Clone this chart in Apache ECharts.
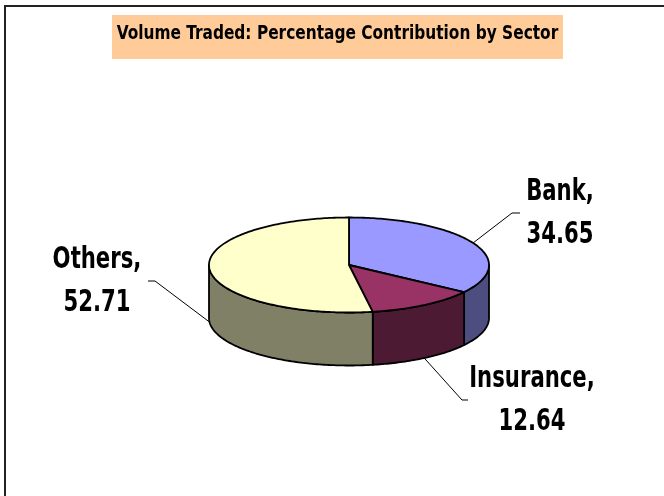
<!DOCTYPE html>
<html>
<head>
<meta charset="utf-8">
<script src="https://cdn.jsdelivr.net/npm/echarts@6/dist/echarts.min.js"></script>
<style>
  html, body { margin: 0; padding: 0; background: #fff; }
  #chart { width: 664px; height: 496px; }
</style>
</head>
<body>
<div id="chart"></div>
<script>
// sector data
const sectors = ['Bank', 'Insurance', 'Others']
const shares = [34.65, 12.64, 52.71]

const topColors = ['#9999FF', '#993366', '#FFFFCC']
const sideColors = ['#4D4D80', '#4D1A33', '#808066']

// 3d pie geometry (ellipse + wall depth)
const cx = 349
const cy = 265
const rx = 140
const ry = 47.5
const depth = 53

// label layout: leader elbow / text centre
const labelLayout = [
  { elbow: [512, 213], end: [520, 213], tx: 560 },
  { elbow: [462, 400], end: [468, 400], tx: 532 },
  { elbow: [155, 281], end: [148, 281], tx: 97 }
]

// no Arial Narrow here, so squeeze the condensed font a bit
const FONT = "'Liberation Sans Narrow', 'Arial Narrow', 'DejaVu Sans Condensed', sans-serif"

const total = shares.reduce((s, v) => s + v, 0)

function pt(t, dy) {
  return [cx + rx * Math.sin(t), cy - ry * Math.cos(t) + (dy || 0)]
}

function arc(a, b, dy) {
  const pts = []
  const n = Math.max(2, Math.ceil(Math.abs(b - a) / (Math.PI / 180)))
  for (let i = 0; i <= n; i++) {
    pts.push(pt(a + (b - a) * i / n, dy))
  }
  return pts
}

function renderItem(params, api) {
  const i = params.dataIndex
  let start = 0
  for (let k = 0; k < i; k++) start += shares[k]
  const a = start / total * Math.PI * 2
  const b = (start + shares[i]) / total * Math.PI * 2
  const children = []

  // side wall, only the front half is seen
  const lo = Math.max(a, Math.PI / 2)
  const hi = Math.min(b, Math.PI * 1.5)
  if (lo < hi) {
    const wall = arc(lo, hi, 0).concat(arc(hi, lo, depth))
    children.push({
      type: 'polygon',
      shape: { points: wall },
      style: { fill: sideColors[i], stroke: '#000', lineWidth: 1.8, lineJoin: 'round' }
    })
  }

  // top face
  children.push({
    type: 'polygon',
    shape: { points: [[cx, cy]].concat(arc(a, b, 0)) },
    style: { fill: topColors[i], stroke: '#000', lineWidth: 1.8, lineJoin: 'round' }
  })

  // leader line + label
  const mid = (a + b) / 2
  const anchor = pt(mid, Math.cos(mid) < 0 ? depth : 0)
  const lay = labelLayout[i]
  children.push({
    type: 'polyline',
    shape: { points: [anchor, lay.elbow, lay.end] },
    style: { fill: null, stroke: '#000', lineWidth: 1 }
  })
  children.push({
    type: 'text',
    x: lay.tx,
    y: lay.end[1],
    scaleX: 0.76,
    style: {
      text: sectors[i] + ',\n' + api.value(0).toFixed(2),
      font: 'bold 31px ' + FONT,
      fill: '#000',
      align: 'center',
      verticalAlign: 'middle',
      lineHeight: 43
    }
  })

  return { type: 'group', children: children }
}

const chart = echarts.init(document.getElementById('chart'), null, { renderer: 'canvas' })

chart.setOption({
  backgroundColor: '#fff',
  animation: false,
  graphic: [
    {
      type: 'rect',
      shape: { x: 5, y: 6, width: 720, height: 600 },
      style: { fill: 'none', stroke: '#222', lineWidth: 2 },
      z: 10
    },
    {
      type: 'rect',
      shape: { x: 112, y: 15, width: 451, height: 44 },
      style: { fill: '#FFCC99' },
      z: 1
    },
    {
      type: 'text',
      x: 337.5,
      y: 34,
      scaleX: 0.9,
      style: {
        text: 'Volume Traded: Percentage Contribution by Sector',
        font: 'bold 19px ' + FONT,
        fill: '#000',
        align: 'center',
        verticalAlign: 'middle'
      },
      z: 2
    }
  ],
  series: [
    {
      type: 'custom',
      coordinateSystem: 'none',
      renderItem: renderItem,
      data: shares.map((v, i) => ({ name: sectors[i], value: [v] }))
    }
  ]
})

window.addEventListener('resize', () => chart.resize())
</script>
</body>
</html>
